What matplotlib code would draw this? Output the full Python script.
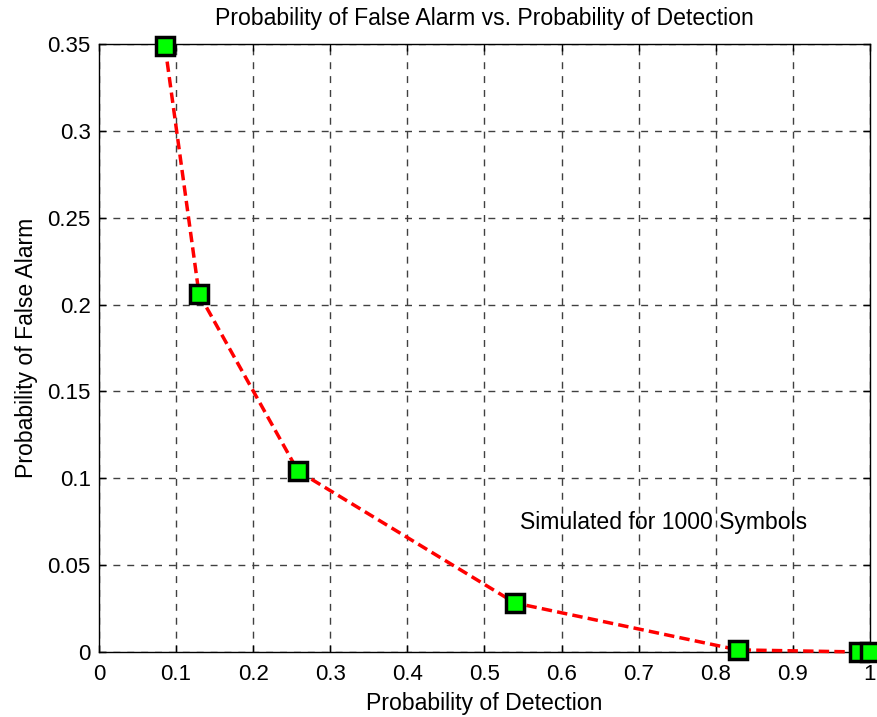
import matplotlib
matplotlib.use("Agg")
import matplotlib.pyplot as plt
import numpy as np

pd_vals = [0.0856, 0.1297, 0.258, 0.5396, 0.8288, 0.986, 1.0]
pfa_vals = [0.3488, 0.2061, 0.1042, 0.0282, 0.0012, 0.0, 0.0]
xticks = [0, 0.1, 0.2, 0.3, 0.4, 0.5, 0.6, 0.7, 0.8, 0.9, 1]
yticks = [0, 0.05, 0.1, 0.15, 0.2, 0.25, 0.3, 0.35]

plt.rcParams['font.family'] = ['Liberation Sans', 'DejaVu Sans']
FS = 16
FL = 16.6

fig = plt.figure(figsize=(8.77, 7.17), dpi=100)
ax = fig.add_axes([0.1129, 0.0907, 0.8791, 0.8479])
ax.plot(pd_vals, pfa_vals, linestyle='--', color='red', linewidth=2.5,
        dashes=(3, 1.5), marker='s', markersize=13, markerfacecolor=(0, 1, 0),
        markeredgecolor='black', markeredgewidth=2.5, clip_on=False, zorder=5)
ax.set_xlim(0, 1)
ax.set_ylim(0, 0.35)
ax.set_xticks(xticks)
ax.set_xticklabels(['0', '0.1', '0.2', '0.3', '0.4', '0.5', '0.6', '0.7', '0.8', '0.9', '1'])
ax.set_yticks(yticks)
ax.set_yticklabels(['0', '0.05', '0.1', '0.15', '0.2', '0.25', '0.3', '0.35'])
ax.grid(True, color='0.25', linestyle=(0, (5, 5)), linewidth=1)
ax.tick_params(direction='in', length=5, labelsize=FS, top=True, right=True, width=1)
ax.tick_params(axis='y', pad=6)
ax.tick_params(axis='x', pad=9)
for s in ax.spines.values():
    s.set_linewidth(1)
ax.set_xlabel('Probability of Detection', fontsize=FL, labelpad=5)
ax.set_ylabel('Probability of False Alarm', fontsize=FL, labelpad=7)
ax.set_title('Probability of False Alarm vs. Probability of Detection', fontsize=FL, pad=14)
ax.text(0.546, 0.0743, 'Simulated for 1000 Symbols', fontsize=FL, va='center', ha='left')
fig.savefig('out.png', dpi=100)
